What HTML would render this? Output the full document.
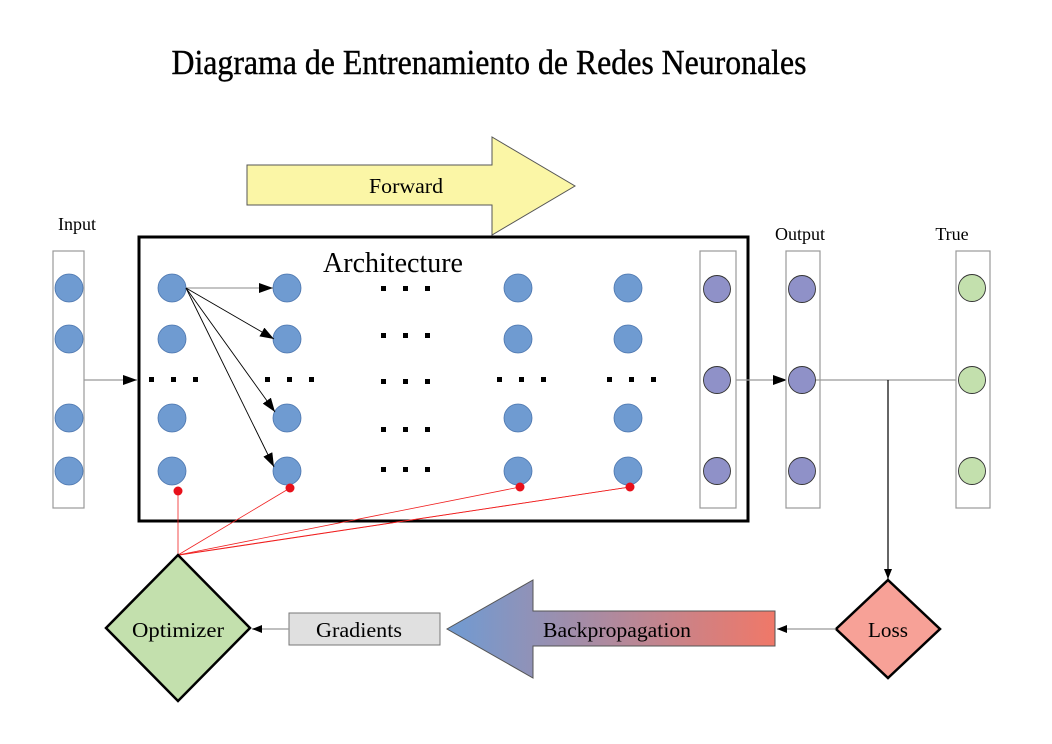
<!DOCTYPE html>
<html><head><meta charset="utf-8"><style>
html,body{margin:0;padding:0;background:#fff;}
svg{display:block;}
text{font-family:"Liberation Serif",serif;}
</style></head><body>
<svg width="1052" height="744" viewBox="0 0 1052 744" xmlns="http://www.w3.org/2000/svg">
<defs>
<marker id="ah" markerWidth="10" markerHeight="8" refX="10" refY="4" orient="auto" markerUnits="userSpaceOnUse"><path d="M0,0 L10,4 L0,8 z" fill="#000"/></marker>
<marker id="ahb" markerWidth="14" markerHeight="10" refX="14" refY="5" orient="auto" markerUnits="userSpaceOnUse"><path d="M0,0 L14,5 L0,10 z" fill="#000"/></marker>
<linearGradient id="bp" x1="0" x2="1" y1="0" y2="0"><stop offset="0" stop-color="#6f9bd3"/><stop offset="1" stop-color="#f07868"/></linearGradient>
</defs>
<rect width="1052" height="744" fill="#fff"/>
<text x="489" y="74" font-size="35" text-anchor="middle" textLength="635" lengthAdjust="spacingAndGlyphs" stroke="#000" stroke-width="0.4">Diagrama de Entrenamiento de Redes Neuronales</text>

<polygon points="247,165 492,165 492,137 575,186 492,235 492,205 247,205" fill="#fbf6a6" stroke="#555" stroke-width="1"/>
<text x="406" y="193" font-size="21" text-anchor="middle" textLength="74" lengthAdjust="spacingAndGlyphs">Forward</text>

<text x="77" y="230" font-size="18" text-anchor="middle">Input</text>
<text x="800" y="240" font-size="18" text-anchor="middle">Output</text>
<text x="952" y="240" font-size="18" text-anchor="middle">True</text>

<rect x="53" y="251" width="31" height="257" fill="#fff" stroke="#999" stroke-width="1.2"/>
<g fill="#6f9bd1" stroke="#4a74ad" stroke-width="0.8">
<circle cx="69" cy="288" r="14"/><circle cx="69" cy="339" r="14"/><circle cx="69" cy="418" r="14"/><circle cx="69" cy="471" r="14"/>
</g>
<line x1="84" y1="380" x2="137" y2="380" stroke="#999" stroke-width="1.2" marker-end="url(#ahb)"/>

<rect x="139" y="237" width="609" height="284" fill="none" stroke="#000" stroke-width="3"/>
<text x="393" y="272" font-size="28" text-anchor="middle">Architecture</text>

<g fill="#6f9bd1" stroke="#4a74ad" stroke-width="0.8">
<circle cx="172" cy="288" r="14"/><circle cx="172" cy="339" r="14"/><circle cx="172" cy="418" r="14"/><circle cx="172" cy="471" r="14"/>
<circle cx="287" cy="288" r="14"/><circle cx="287" cy="339" r="14"/><circle cx="287" cy="418" r="14"/><circle cx="287" cy="471" r="14"/>
<circle cx="518" cy="288" r="14"/><circle cx="518" cy="339" r="14"/><circle cx="518" cy="418" r="14"/><circle cx="518" cy="471" r="14"/>
<circle cx="628" cy="288" r="14"/><circle cx="628" cy="339" r="14"/><circle cx="628" cy="418" r="14"/><circle cx="628" cy="471" r="14"/>
</g>
<g fill="#000">
<rect x="149" y="377" width="5" height="5"/><rect x="171" y="377" width="5" height="5"/><rect x="193" y="377" width="5" height="5"/>
<rect x="265" y="377" width="5" height="5"/><rect x="287" y="377" width="5" height="5"/><rect x="309" y="377" width="5" height="5"/>
<rect x="497" y="377" width="5" height="5"/><rect x="519" y="377" width="5" height="5"/><rect x="541" y="377" width="5" height="5"/>
<rect x="607" y="377" width="5" height="5"/><rect x="629" y="377" width="5" height="5"/><rect x="651" y="377" width="5" height="5"/>
<rect x="381" y="286" width="5" height="5"/><rect x="403" y="286" width="5" height="5"/><rect x="425" y="286" width="5" height="5"/>
<rect x="381" y="333" width="5" height="5"/><rect x="403" y="333" width="5" height="5"/><rect x="425" y="333" width="5" height="5"/>
<rect x="381" y="379" width="5" height="5"/><rect x="403" y="379" width="5" height="5"/><rect x="425" y="379" width="5" height="5"/>
<rect x="381" y="427" width="5" height="5"/><rect x="403" y="427" width="5" height="5"/><rect x="425" y="427" width="5" height="5"/>
<rect x="381" y="467" width="5" height="5"/><rect x="403" y="467" width="5" height="5"/><rect x="425" y="467" width="5" height="5"/>
</g>
<g stroke="#000" stroke-width="0.9" fill="none">
<line x1="186" y1="288" x2="273" y2="288" stroke="#888" marker-end="url(#ahb)"/>
<line x1="186" y1="288" x2="274" y2="339" marker-end="url(#ahb)"/>
<line x1="186" y1="288" x2="275" y2="412" marker-end="url(#ahb)"/>
<line x1="186" y1="288" x2="274" y2="467" marker-end="url(#ahb)"/>
</g>

<rect x="700" y="251" width="36" height="257" fill="#fff" stroke="#999" stroke-width="1.2"/>
<g fill="#8f91c8" stroke="#333" stroke-width="0.9">
<circle cx="717" cy="289" r="13.5"/><circle cx="717" cy="380" r="13.5"/><circle cx="717" cy="471" r="13.5"/>
</g>
<rect x="139" y="237" width="609" height="284" fill="none" stroke="#000" stroke-width="3"/>
<line x1="736" y1="380" x2="787" y2="380" stroke="#999" stroke-width="1.2" marker-end="url(#ahb)"/>

<rect x="786" y="251" width="34" height="257" fill="#fff" stroke="#999" stroke-width="1.2"/>
<g fill="#8f91c8" stroke="#333" stroke-width="0.9">
<circle cx="802" cy="289" r="13.5"/><circle cx="802" cy="380" r="13.5"/><circle cx="802" cy="471" r="13.5"/>
</g>
<line x1="816" y1="380" x2="956" y2="380" stroke="#999" stroke-width="1.2"/>
<rect x="956" y="251" width="34" height="257" fill="#fff" stroke="#999" stroke-width="1.2"/>
<g fill="#c3e0ad" stroke="#333" stroke-width="0.9">
<circle cx="972" cy="288" r="13.5"/><circle cx="972" cy="380" r="13.5"/><circle cx="972" cy="471" r="13.5"/>
</g>
<line x1="888" y1="380" x2="888" y2="579" stroke="#000" stroke-width="1.2" marker-end="url(#ah)"/>

<g stroke="#f02020" stroke-width="0.8">
<line x1="178" y1="491" x2="178" y2="555"/>
<line x1="290" y1="488" x2="178" y2="555"/>
<line x1="520" y1="487" x2="178" y2="555"/>
<line x1="630" y1="487" x2="178" y2="555"/>
<line x1="630" y1="487" x2="180" y2="555"/>
</g>
<g fill="#e8101a">
<circle cx="178" cy="491" r="4.5"/><circle cx="290" cy="488" r="4.5"/><circle cx="520" cy="487" r="4.5"/><circle cx="630" cy="487" r="4.5"/>
</g>

<polygon points="888,580 940,629 888,678 836,629" fill="#f7a197" stroke="#000" stroke-width="2.5"/>
<text x="888" y="637" font-size="21" text-anchor="middle" textLength="40" lengthAdjust="spacingAndGlyphs">Loss</text>
<line x1="836" y1="629" x2="777" y2="629" stroke="#999" stroke-width="1.2" marker-end="url(#ah)"/>

<polygon points="775,611 533,611 533,580 447,629 533,678 533,646 775,646" fill="url(#bp)" stroke="#555" stroke-width="1"/>
<text x="617" y="637" font-size="21" text-anchor="middle" textLength="148" lengthAdjust="spacingAndGlyphs">Backpropagation</text>

<rect x="289" y="613" width="151" height="32" fill="#e0e0e0" stroke="#777" stroke-width="1"/>
<text x="359" y="637" font-size="21" text-anchor="middle" textLength="86" lengthAdjust="spacingAndGlyphs">Gradients</text>
<line x1="289" y1="629" x2="252" y2="629" stroke="#999" stroke-width="1.2" marker-end="url(#ah)"/>

<polygon points="178,555 250,628 178,701 106,628" fill="#c3e0ad" stroke="#000" stroke-width="2.5"/>
<text x="178" y="637" font-size="21" text-anchor="middle" textLength="92" lengthAdjust="spacingAndGlyphs">Optimizer</text>
</svg>
</body></html>
